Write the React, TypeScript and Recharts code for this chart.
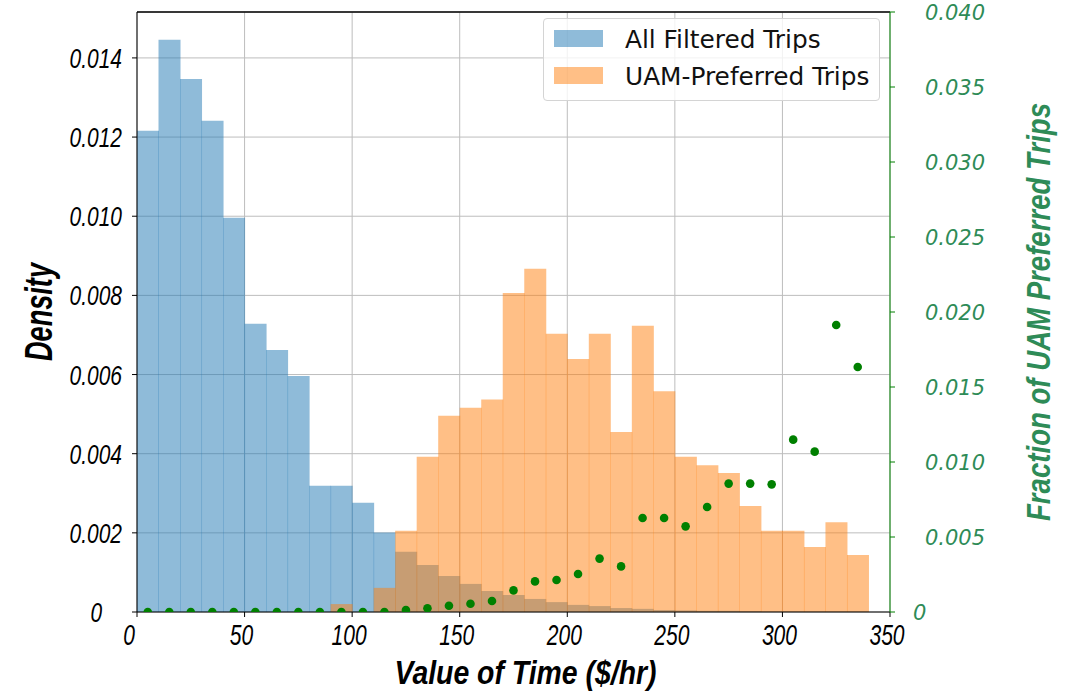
import { ComposedChart, Bar, Scatter, XAxis, YAxis, CartesianGrid, Legend, ReferenceLine, Label } from 'recharts';

// histogram bins ($/hr), width 10
const binStarts = [0, 10, 20, 30, 40, 50, 60, 70, 80, 90, 100, 110, 120, 130, 140, 150, 160, 170, 180, 190, 200, 210, 220, 230, 240, 250, 260, 270, 280, 290, 300, 310, 320, 330, 340];

const allFilteredDensity = [
  0.01216, 0.01446, 0.01347, 0.01241, 0.00996, 0.00728, 0.00662, 0.00596, 0.00319, 0.00319,
  0.00276, 0.00201, 0.00152, 0.00119, 0.00091, 0.00071, 0.00053, 0.00043, 0.00033, 0.00025,
  0.00018, 0.00015, 0.0001, 0.00008, 0.00005, 0.00004, 0.00003, 0.00003, 0.00002, 0.00001,
  0.00001, 0.00001, 0.00001, 0.00001, 0
];

const uamPreferredDensity = [
  0, 0, 0, 0, 0, 0, 0, 0, 0, 0.0002,
  0, 0.00061, 0.00205, 0.00392, 0.00496, 0.00516, 0.00537, 0.00806, 0.00867, 0.00703,
  0.00639, 0.00703, 0.00455, 0.00723, 0.00558, 0.00392, 0.00371, 0.00351, 0.00268, 0.00205,
  0.00205, 0.00164, 0.00227, 0.00144, 0
];

// fraction of UAM preferred trips at bin centres
const binCenters = [5, 15, 25, 35, 45, 55, 65, 75, 85, 95, 105, 115, 125, 135, 145, 155, 165, 175, 185, 195, 205, 215, 225, 235, 245, 255, 265, 275, 285, 295, 305, 315, 325, 335];
const uamFraction = [
  0, 0, 0, 0, 0, 0, 0, 0, 0, 0, 0, 0,
  0.00013, 0.00025, 0.00042, 0.00055, 0.00073, 0.00144, 0.00204, 0.00213, 0.00253, 0.00356,
  0.00304, 0.00627, 0.00627, 0.00571, 0.007, 0.00856, 0.00856, 0.00851, 0.01149, 0.01069,
  0.01913, 0.01633
];

const valueTicks = [0, 50, 100, 150, 200, 250, 300, 350];
const densityTicks = [0, 0.002, 0.004, 0.006, 0.008, 0.01, 0.012, 0.014];
const fractionTicks = [0, 0.005, 0.01, 0.015, 0.02, 0.025, 0.03, 0.035, 0.04];

const DENSITY_MAX = 0.01516;

const histData = binStarts.map((b, i) => ({ bin: b, all: allFilteredDensity[i], uam: uamPreferredDensity[i] }));
const fractionData = binCenters.map((c, i) => ({ vot: c, frac: uamFraction[i] }));

const condensed = '"Liberation Sans Narrow", "Liberation Sans", sans-serif';
const LABEL_GREEN = '#2e8b57';

// rough width of a condensed label so textLength squeezes the glyphs
const squeeze = (s: string, digit: number, dot: number) =>
  s.split('').reduce((w, ch) => w + (ch === '.' ? dot : digit), 0);

const XTick = ({ x, y, payload }: any) => {
  const s = String(payload.value);
  const dx = payload.value === 0 ? -8 : -3;
  return (
    <text x={x + dx} y={y + 26} textAnchor="middle" fontFamily={condensed} fontStyle="italic" fontSize={29}
      fill="#000" textLength={squeeze(s, 11.7, 5)} lengthAdjust="spacingAndGlyphs">
      {s}
    </text>
  );
};

const LeftTick = ({ x, y, payload }: any) => {
  const v = payload.value;
  const s = v === 0 ? '0' : v.toFixed(3);
  return (
    <text x={v === 0 ? x - 28 : x - 8} y={y + 10} textAnchor="end" fontFamily={condensed} fontStyle="italic" fontSize={28}
      fill="#000" textLength={squeeze(s, 11.6, 6)} lengthAdjust="spacingAndGlyphs">
      {s}
    </text>
  );
};

const RightTick = ({ x, y, payload }: any) => {
  const v = payload.value;
  if (v === 0) {
    return (
      <text x={x + 16} y={y + 8} textAnchor="start" fontFamily="DejaVu Sans" fontStyle="italic" fontSize={21} fill={LABEL_GREEN}>0</text>
    );
  }
  return (
    <text x={x + 88} y={y + 8} textAnchor="end" fontFamily="DejaVu Sans" fontStyle="italic" fontSize={21} fill={LABEL_GREEN}>
      {v.toFixed(3)}
    </text>
  );
};

const LegendBox = () => {
  const row = (color: string, text: string, top: number) => (
    <div style={{ position: 'absolute', left: 0, top, height: 29, width: '100%' }}>
      <div style={{ position: 'absolute', left: 10, top: 5, width: 49, height: 17, background: color, opacity: 0.5 }} />
      <div style={{ position: 'absolute', left: 81, top: 0, whiteSpace: 'nowrap', lineHeight: '29px' }}>{text}</div>
    </div>
  );
  return (
    <div style={{
      position: 'relative', width: 337, height: 83, boxSizing: 'border-box', border: '1px solid #d4d4d4',
      borderRadius: 4, background: 'rgba(255,255,255,0.8)', fontFamily: '"DejaVu Sans", sans-serif', fontSize: 24.8, color: '#111'
    }}>
      {row('#1f77b4', 'All Filtered Trips', 6)}
      {row('#ff7f0e', 'UAM-Preferred Trips', 43)}
    </div>
  );
};

const Dot = (p: any) => <circle cx={p.cx} cy={p.cy} r={4.3} fill="#008000" />;

export default function App() {
  return (
    <div style={{ position: 'absolute', left: 0, top: 0, width: 1068, height: 692, background: '#fff' }}>
      <ComposedChart width={1068} height={692} data={histData} margin={{ top: 12, right: 0, bottom: 0, left: 0 }}
        barCategoryGap={0} barGap={0}>
        <XAxis xAxisId="vot" dataKey="vot" type="number" domain={[0, 350]} ticks={valueTicks} allowDataOverflow
          height={80} tickSize={5} stroke="#000" tickLine={{ stroke: '#000' }} tick={<XTick />}>
          <Label content={({ viewBox }: any) => (
            <text x={viewBox.x + viewBox.width / 2 + 12} y={viewBox.y + 72} textAnchor="middle" fontFamily={condensed}
              fontWeight="bold" fontStyle="italic" fontSize={33} fill="#000" textLength={262} lengthAdjust="spacingAndGlyphs">
              Value of Time ($/hr)
            </text>
          )} />
        </XAxis>
        <XAxis xAxisId="all" dataKey="bin" type="category" hide height={0} />
        <XAxis xAxisId="uam" dataKey="bin" type="category" hide height={0} />
        <YAxis yAxisId="density" domain={[0, DENSITY_MAX]} ticks={densityTicks} allowDataOverflow width={137}
          tickSize={5} stroke="#000" tick={<LeftTick />}>
          <Label content={({ viewBox }: any) => {
            const cx = 52, cy = viewBox.y + viewBox.height / 2;
            return (
              <text x={cx} y={cy} transform={`rotate(-90 ${cx} ${cy})`} textAnchor="middle" fontFamily={condensed}
                fontWeight="bold" fontStyle="italic" fontSize={38} fill="#000" textLength={98} lengthAdjust="spacingAndGlyphs">
                Density
              </text>
            );
          }} />
        </YAxis>
        <YAxis yAxisId="frac" dataKey="frac" orientation="right" domain={[0, 0.04]} ticks={fractionTicks} allowDataOverflow
          width={178} tickSize={5} stroke="#008000" tick={<RightTick />}>
          <Label content={({ viewBox }: any) => {
            const cx = 1050, cy = viewBox.y + viewBox.height / 2;
            return (
              <text x={cx} y={cy} transform={`rotate(-90 ${cx} ${cy})`} textAnchor="middle" fontFamily={condensed}
                fontWeight="bold" fontStyle="italic" fontSize={34} fill={LABEL_GREEN} textLength={418} lengthAdjust="spacingAndGlyphs">
                Fraction of UAM Preferred Trips
              </text>
            );
          }} />
        </YAxis>
        <CartesianGrid xAxisId="vot" yAxisId="density" stroke="#bdbdbd" strokeWidth={1} />
        <Bar xAxisId="all" yAxisId="density" dataKey="all" name="All Filtered Trips" fill="#1f77b4" fillOpacity={0.5}
          isAnimationActive={false} />
        <Bar xAxisId="uam" yAxisId="density" dataKey="uam" name="UAM-Preferred Trips" fill="#ff7f0e" fillOpacity={0.5}
          isAnimationActive={false} />
        <ReferenceLine yAxisId="density" y={DENSITY_MAX} stroke="#000" strokeWidth={1.3} />
        <Scatter xAxisId="vot" yAxisId="frac" data={fractionData} dataKey="frac" legendType="none" shape={<Dot />}
          isAnimationActive={false} />
        <Legend layout="vertical" align="center" verticalAlign="middle" content={() => <LegendBox />}
          wrapperStyle={{ position: 'absolute', left: 543, top: 18, width: 337, height: 83 }} />
      </ComposedChart>
    </div>
  );
}
